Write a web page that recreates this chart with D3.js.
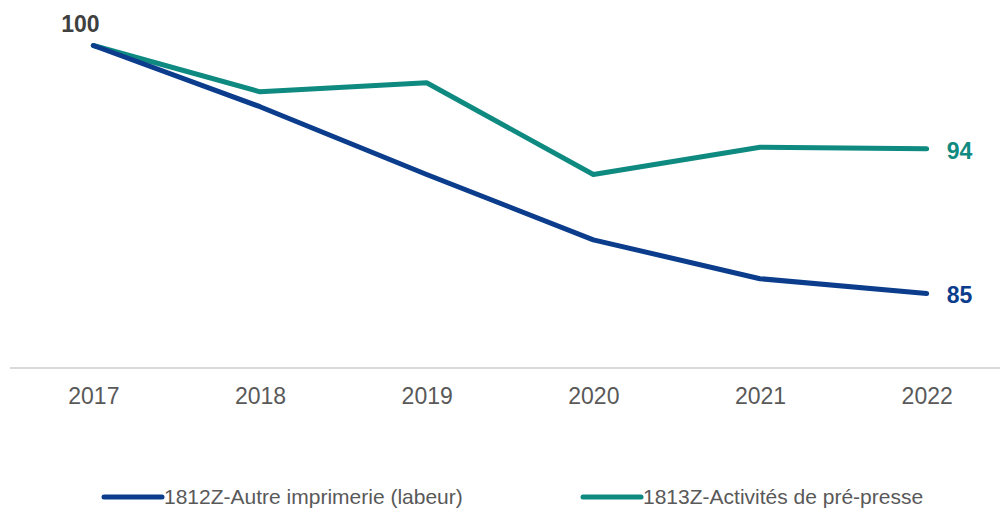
<!DOCTYPE html>
<html>
<head>
<meta charset="utf-8">
<script src="https://cdn.jsdelivr.net/npm/d3@7"></script>
<style>
  html, body { margin: 0; padding: 0; background: #fff; }
  svg { display: block; font-family: "Liberation Sans", Arial, sans-serif; }
</style>
</head>
<body>
<svg id="chart" width="1000" height="508"></svg>
<script>
const years = ["2017", "2018", "2019", "2020", "2021", "2022"];
const seriesNames = ["1812Z-Autre imprimerie (labeur)", "1813Z-Activités de pré-presse"];
const imprimerie = [100, 96.3, 92.2, 88.25, 85.9, 85.0];
const prepresse = [100, 97.2, 97.75, 92.2, 93.85, 93.75];
const endLabels = ["85", "94"];
const startLabel = "100";
const colors = ["#0b3d8c", "#0f8a80"];

const svg = d3.select("#chart");

const x = d3.scalePoint().domain(years).range([10, 1010]).padding(0.5);
const y = d3.scaleLinear().domain([80.5, 100]).range([368, 45.5]);

// axis
const axisG = svg.append("g").attr("transform", "translate(0,368)");
axisG.call(d3.axisBottom(x).tickSize(0).tickPadding(0));
axisG.select(".domain").attr("d", "M10,0H1000").attr("stroke", "#d9d9d9").attr("stroke-width", 2);
axisG.selectAll(".tick text")
  .attr("y", 36).attr("dy", null)
  .attr("font-size", 23).attr("fill", "#595959")
  .attr("font-family", "'Liberation Sans', Arial, sans-serif");

const line = d3.line().x((d, i) => x(years[i])).y(d => y(d));
const data = [imprimerie, prepresse];

[1, 0].forEach(k => {
  svg.append("path")
    .datum(data[k])
    .attr("d", line)
    .attr("fill", "none")
    .attr("stroke", colors[k])
    .attr("stroke-width", 5)
    .attr("stroke-linejoin", "round")
    .attr("stroke-linecap", "round");
});

// start label
svg.append("text")
  .attr("x", x(years[0]) - 13).attr("y", y(100) - 13.5)
  .attr("text-anchor", "middle")
  .attr("font-size", 23).attr("font-weight", "bold").attr("fill", "#404040")
  .text(startLabel);

// end labels
data.forEach((s, k) => {
  svg.append("text")
    .attr("x", x(years[years.length - 1]) + 20)
    .attr("y", y(s[s.length - 1]))
    .attr("dy", "0.42em")
    .attr("font-size", 23).attr("font-weight", "bold").attr("fill", colors[k])
    .text(endLabels[k]);
});

// legend
const legendX = [104, 583];
seriesNames.forEach((name, k) => {
  const g = svg.append("g").attr("transform", `translate(${legendX[k]},497)`);
  g.append("line").attr("x1", 0).attr("x2", 58).attr("y1", 0).attr("y2", 0)
    .attr("stroke", colors[k]).attr("stroke-width", 5).attr("stroke-linecap", "round");
  g.append("text").attr("x", 60).attr("y", 7)
    .attr("font-size", 21).attr("fill", "#595959")
    .text(name);
});
</script>
</body>
</html>
